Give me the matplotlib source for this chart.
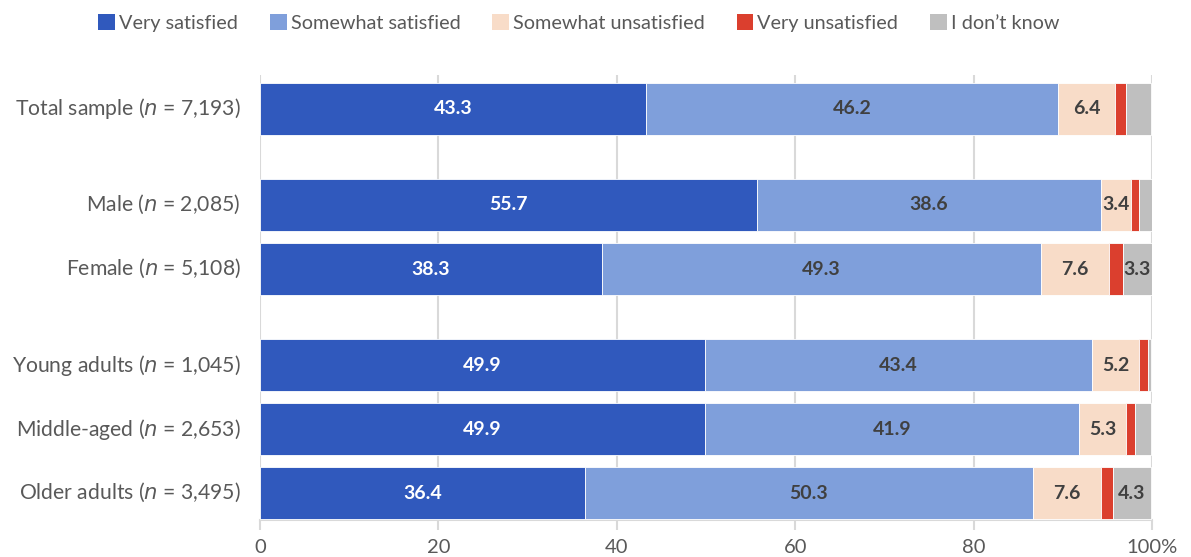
import matplotlib
matplotlib.use("Agg")
import matplotlib.pyplot as plt
import matplotlib.transforms as mtransforms
from matplotlib.patches import Patch
import numpy as np

plt.rcParams['font.family'] = ['Lato', 'DejaVu Sans']

categories = [
    "Total sample ($n$ = 7,193)",
    "Male ($n$ = 2,085)",
    "Female ($n$ = 5,108)",
    "Young adults ($n$ = 1,045)",
    "Middle-aged ($n$ = 2,653)",
    "Older adults ($n$ = 3,495)",
]
series_names = ["Very satisfied", "Somewhat satisfied", "Somewhat unsatisfied",
                "Very unsatisfied", "I don\u2019t know"]
very_satisfied = [43.3, 55.7, 38.3, 49.9, 49.9, 36.4]
somewhat_satisfied = [46.2, 38.6, 49.3, 43.4, 41.9, 50.3]
somewhat_unsatisfied = [6.4, 3.4, 7.6, 5.2, 5.3, 7.6]
very_unsatisfied = [1.2, 0.8, 1.5, 1.1, 1.0, 1.3]
dont_know = [2.8, 1.5, 3.3, 0.3, 1.8, 4.3]
x_ticks = [0, 20, 40, 60, 80, 100]
x_tick_labels = ["0", "20", "40", "60", "80", "100%"]

colors = ["#3059BD", "#7F9FDB", "#F8DCC8", "#DB3F2E", "#BFBFBF"]
label_colors = ["white", "#404040", "#404040", "#404040", "#404040"]

# rows are grouped: total, sex, age
y_pos = np.array([0, 1.5, 2.5, 4, 5, 6])

fig = plt.figure(figsize=(11.91, 5.57), dpi=100)
ax = fig.add_axes([260 / 1191, 1 - 520 / 557, (1152 - 260) / 1191, (520 - 75) / 557])

data = [very_satisfied, somewhat_satisfied, somewhat_unsatisfied, very_unsatisfied, dont_know]
left = np.zeros(len(categories))
for vals, col, lcol in zip(data, colors, label_colors):
    vals = np.array(vals)
    ax.barh(y_pos, vals, left=left, height=0.81, color=col, edgecolor="white",
            linewidth=0.6, zorder=3)
    for y, l, v in zip(y_pos, left, vals):
        if v >= 3:
            ax.text(l + v / 2, y, f"{v:.1f}", ha="center", va="center",
                    color=lcol, fontsize=14, fontweight="bold", zorder=4)
    left += vals

ax.set_xlim(0, 100)
ax.set_ylim(6.42, -0.53)
ax.set_yticks(y_pos)
ax.set_yticklabels(categories, fontsize=15.2, color="#595959")
ax.set_xticks(x_ticks)
ax.set_xticklabels(x_tick_labels, fontsize=14.5, color="#595959")
ax.tick_params(axis="y", length=0, pad=14)
ax.tick_params(axis="x", length=7, width=1.5, color="#D9D9D9", pad=7, direction="out")
# nudge category labels up slightly
shift = mtransforms.ScaledTranslation(0, 3 / 100, fig.dpi_scale_trans)
for lbl in ax.get_yticklabels():
    lbl.set_transform(lbl.get_transform() + shift)
ax.xaxis.grid(True, color="#D9D9D9", linewidth=1.5, zorder=0)
for side in ["top", "right", "left"]:
    ax.spines[side].set_visible(False)
ax.spines["bottom"].set_color("#D9D9D9")
ax.spines["bottom"].set_linewidth(1.5)

handles = [Patch(facecolor=c, edgecolor="none") for c in colors]
fig.legend(handles, series_names, loc="center", bbox_to_anchor=(0.486, 1 - 23 / 557),
           ncol=5, frameon=False, fontsize=14.3, labelcolor="#595959",
           handlelength=0.85, handleheight=0.85, handletextpad=0.2, columnspacing=1.6)

fig.savefig("out.png", dpi=100)
